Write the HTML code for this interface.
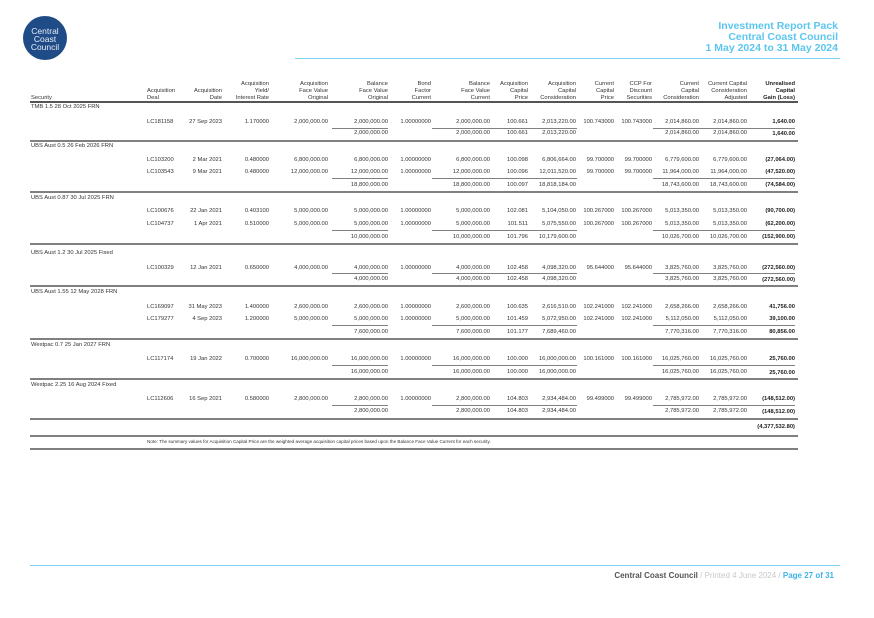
<!DOCTYPE html>
<html><head><meta charset="utf-8"><style>
*{margin:0;padding:0}
body{width:874px;height:618px;position:relative;background:#fff;font-family:"Liberation Sans",Arial,sans-serif;color:#333;overflow:hidden}
.logo{position:absolute;left:23px;top:16px;width:44px;height:44px;border-radius:50%;background:#1f4b86;color:#e8eef6;font-size:8.5px;line-height:8px;text-align:center;padding-top:11px;box-sizing:border-box;font-weight:300}
.title{position:absolute;right:36px;top:21px;text-align:right;color:#5cc6ef;font-weight:bold;font-size:10.5px;line-height:11px}
.hl{position:absolute;background:#7fd3f2;height:1px}
.ln{position:absolute;left:30px;width:768px;height:1.5px;background:#808080}
.ul{position:absolute;height:1px;background:#808080}
.r{position:absolute;left:0;width:874px;height:8px;font-size:5.8px;line-height:8px;white-space:nowrap}
.r span{position:absolute;top:0;text-align:right;width:70px}
.r .s{left:31px;text-align:left;width:200px}
.r .a{left:147px;text-align:left}
.c2{left:152px}.c3{left:199px}.c4{left:258px}.c5{left:318px}.c6{left:361px}
.c7{left:420px}.c8{left:458px}.c9{left:506px}.c10{left:544px}.c11{left:582px}
.c12{left:629px}.c13{left:677px}.c14{left:725px;font-weight:bold;color:#222}
.h{position:absolute;left:0;top:75px;width:874px;height:30px;font-size:5.8px;line-height:7px}
.h span{position:absolute;bottom:3px;text-align:right;width:70px}
.h .c14{font-weight:bold}
.foot{position:absolute;right:40px;top:571px;font-size:8px;font-weight:bold;color:#555}
</style></head><body>
<div class="logo">Central<br>Coast<br>Council</div>
<div class="title">Investment Report Pack<br>Central Coast Council<br>1 May 2024 to 31 May 2024</div>
<div class="hl" style="left:295px;top:58px;width:545px"></div>

<div class="h">
<span style="left:31px;text-align:left">Security</span>
<span style="left:147px;text-align:left">Acquisition<br>Deal</span>
<span class="c2">Acquisition<br>Date</span>
<span class="c3">Acquisition<br>Yield/<br>Interest Rate</span>
<span class="c4">Acquisition<br>Face Value<br>Original</span>
<span class="c5">Balance<br>Face Value<br>Original</span>
<span class="c6">Bond<br>Factor<br>Current</span>
<span class="c7">Balance<br>Face Value<br>Current</span>
<span class="c8">Acquisition<br>Capital<br>Price</span>
<span class="c9">Acquisition<br>Capital<br>Consideration</span>
<span class="c10">Current<br>Capital<br>Price</span>
<span class="c11">CCP For<br>Discount<br>Securities</span>
<span class="c12">Current<br>Capital<br>Consideration</span>
<span class="c13">Current Capital<br>Consideration<br>Adjusted</span>
<span class="c14">Unrealised<br>Capital<br>Gain (Loss)</span>
</div>
<div class="ln" style="top:101px;height:2px;background:#555"></div>

<!-- TMB -->
<div class="r" style="top:103px"><span class="s">TMB 1.5 28 Oct 2025 FRN</span></div>
<div class="r" style="top:118px"><span class="a">LC181158</span><span class="c2">27 Sep 2023</span><span class="c3">1.170000</span><span class="c4">2,000,000.00</span><span class="c5">2,000,000.00</span><span class="c6">1.00000000</span><span class="c7">2,000,000.00</span><span class="c8">100.661</span><span class="c9">2,013,220.00</span><span class="c10">100.743000</span><span class="c11">100.743000</span><span class="c12">2,014,860.00</span><span class="c13">2,014,860.00</span><span class="c14">1,640.00</span></div>
<div class="ul" style="left:332px;width:56px;top:128px"></div><div class="ul" style="left:432px;width:145px;top:128px"></div><div class="ul" style="left:653px;width:142px;top:128px"></div>
<div class="r" style="top:129px"><span class="c5">2,000,000.00</span><span class="c7">2,000,000.00</span><span class="c8">100.661</span><span class="c9">2,013,220.00</span><span class="c12">2,014,860.00</span><span class="c13">2,014,860.00</span><span class="c14" style="top:1px">1,640.00</span></div>
<div class="ln" style="top:140px"></div>

<!-- UBS 0.5 -->
<div class="r" style="top:142px"><span class="s">UBS Aust 0.5 26 Feb 2026 FRN</span></div>
<div class="r" style="top:156px"><span class="a">LC103200</span><span class="c2">2 Mar 2021</span><span class="c3">0.480000</span><span class="c4">6,800,000.00</span><span class="c5">6,800,000.00</span><span class="c6">1.00000000</span><span class="c7">6,800,000.00</span><span class="c8">100.098</span><span class="c9">6,806,664.00</span><span class="c10">99.700000</span><span class="c11">99.700000</span><span class="c12">6,779,600.00</span><span class="c13">6,779,600.00</span><span class="c14">(27,064.00)</span></div>
<div class="r" style="top:168px"><span class="a">LC103543</span><span class="c2">9 Mar 2021</span><span class="c3">0.480000</span><span class="c4">12,000,000.00</span><span class="c5">12,000,000.00</span><span class="c6">1.00000000</span><span class="c7">12,000,000.00</span><span class="c8">100.096</span><span class="c9">12,011,520.00</span><span class="c10">99.700000</span><span class="c11">99.700000</span><span class="c12">11,964,000.00</span><span class="c13">11,964,000.00</span><span class="c14">(47,520.00)</span></div>
<div class="ul" style="left:332px;width:56px;top:178px"></div><div class="ul" style="left:432px;width:145px;top:178px"></div><div class="ul" style="left:653px;width:142px;top:178px"></div>
<div class="r" style="top:181px"><span class="c5">18,800,000.00</span><span class="c7">18,800,000.00</span><span class="c8">100.097</span><span class="c9">18,818,184.00</span><span class="c12">18,743,600.00</span><span class="c13">18,743,600.00</span><span class="c14">(74,584.00)</span></div>
<div class="ln" style="top:191px"></div>

<!-- UBS 0.87 -->
<div class="r" style="top:194px"><span class="s">UBS Aust 0.87 30 Jul 2025 FRN</span></div>
<div class="r" style="top:207px"><span class="a">LC100676</span><span class="c2">22 Jan 2021</span><span class="c3">0.403100</span><span class="c4">5,000,000.00</span><span class="c5">5,000,000.00</span><span class="c6">1.00000000</span><span class="c7">5,000,000.00</span><span class="c8">102.081</span><span class="c9">5,104,050.00</span><span class="c10">100.267000</span><span class="c11">100.267000</span><span class="c12">5,013,350.00</span><span class="c13">5,013,350.00</span><span class="c14">(90,700.00)</span></div>
<div class="r" style="top:220px"><span class="a">LC104737</span><span class="c2">1 Apr 2021</span><span class="c3">0.510000</span><span class="c4">5,000,000.00</span><span class="c5">5,000,000.00</span><span class="c6">1.00000000</span><span class="c7">5,000,000.00</span><span class="c8">101.511</span><span class="c9">5,075,550.00</span><span class="c10">100.267000</span><span class="c11">100.267000</span><span class="c12">5,013,350.00</span><span class="c13">5,013,350.00</span><span class="c14">(62,200.00)</span></div>
<div class="ul" style="left:332px;width:56px;top:230px"></div><div class="ul" style="left:432px;width:145px;top:230px"></div><div class="ul" style="left:653px;width:142px;top:230px"></div>
<div class="r" style="top:233px"><span class="c5">10,000,000.00</span><span class="c7">10,000,000.00</span><span class="c8">101.796</span><span class="c9">10,179,600.00</span><span class="c12">10,026,700.00</span><span class="c13">10,026,700.00</span><span class="c14">(152,900.00)</span></div>
<div class="ln" style="top:243px"></div>

<!-- UBS 1.2 -->
<div class="r" style="top:249px"><span class="s">UBS Aust 1.2 30 Jul 2025 Fixed</span></div>
<div class="r" style="top:264px"><span class="a">LC100329</span><span class="c2">12 Jan 2021</span><span class="c3">0.650000</span><span class="c4">4,000,000.00</span><span class="c5">4,000,000.00</span><span class="c6">1.00000000</span><span class="c7">4,000,000.00</span><span class="c8">102.458</span><span class="c9">4,098,320.00</span><span class="c10">95.644000</span><span class="c11">95.644000</span><span class="c12">3,825,760.00</span><span class="c13">3,825,760.00</span><span class="c14">(272,560.00)</span></div>
<div class="ul" style="left:332px;width:56px;top:273px"></div><div class="ul" style="left:432px;width:145px;top:273px"></div><div class="ul" style="left:653px;width:142px;top:273px"></div>
<div class="r" style="top:275px"><span class="c5">4,000,000.00</span><span class="c7">4,000,000.00</span><span class="c8">102.458</span><span class="c9">4,098,320.00</span><span class="c12">3,825,760.00</span><span class="c13">3,825,760.00</span><span class="c14" style="top:1px">(272,560.00)</span></div>
<div class="ln" style="top:285px"></div>

<!-- UBS 1.55 -->
<div class="r" style="top:288px"><span class="s">UBS Aust 1.55 12 May 2028 FRN</span></div>
<div class="r" style="top:303px"><span class="a">LC169097</span><span class="c2">31 May 2023</span><span class="c3">1.400000</span><span class="c4">2,600,000.00</span><span class="c5">2,600,000.00</span><span class="c6">1.00000000</span><span class="c7">2,600,000.00</span><span class="c8">100.635</span><span class="c9">2,616,510.00</span><span class="c10">102.241000</span><span class="c11">102.241000</span><span class="c12">2,658,266.00</span><span class="c13">2,658,266.00</span><span class="c14">41,756.00</span></div>
<div class="r" style="top:315px"><span class="a">LC179277</span><span class="c2">4 Sep 2023</span><span class="c3">1.200000</span><span class="c4">5,000,000.00</span><span class="c5">5,000,000.00</span><span class="c6">1.00000000</span><span class="c7">5,000,000.00</span><span class="c8">101.459</span><span class="c9">5,072,950.00</span><span class="c10">102.241000</span><span class="c11">102.241000</span><span class="c12">5,112,050.00</span><span class="c13">5,112,050.00</span><span class="c14">39,100.00</span></div>
<div class="ul" style="left:332px;width:56px;top:325px"></div><div class="ul" style="left:432px;width:145px;top:325px"></div><div class="ul" style="left:653px;width:142px;top:325px"></div>
<div class="r" style="top:328px"><span class="c5">7,600,000.00</span><span class="c7">7,600,000.00</span><span class="c8">101.177</span><span class="c9">7,689,460.00</span><span class="c12">7,770,316.00</span><span class="c13">7,770,316.00</span><span class="c14">80,856.00</span></div>
<div class="ln" style="top:338px"></div>

<!-- Westpac 0.7 -->
<div class="r" style="top:341px"><span class="s">Westpac 0.7 25 Jan 2027 FRN</span></div>
<div class="r" style="top:355px"><span class="a">LC117174</span><span class="c2">19 Jan 2022</span><span class="c3">0.700000</span><span class="c4">16,000,000.00</span><span class="c5">16,000,000.00</span><span class="c6">1.00000000</span><span class="c7">16,000,000.00</span><span class="c8">100.000</span><span class="c9">16,000,000.00</span><span class="c10">100.161000</span><span class="c11">100.161000</span><span class="c12">16,025,760.00</span><span class="c13">16,025,760.00</span><span class="c14">25,760.00</span></div>
<div class="ul" style="left:332px;width:56px;top:365px"></div><div class="ul" style="left:432px;width:145px;top:365px"></div><div class="ul" style="left:653px;width:142px;top:365px"></div>
<div class="r" style="top:368px"><span class="c5">16,000,000.00</span><span class="c7">16,000,000.00</span><span class="c8">100.000</span><span class="c9">16,000,000.00</span><span class="c12">16,025,760.00</span><span class="c13">16,025,760.00</span><span class="c14" style="top:1px">25,760.00</span></div>
<div class="ln" style="top:378px"></div>

<!-- Westpac 2.25 -->
<div class="r" style="top:381px"><span class="s">Westpac 2.25 16 Aug 2024 Fixed</span></div>
<div class="r" style="top:395px"><span class="a">LC112606</span><span class="c2">16 Sep 2021</span><span class="c3">0.580000</span><span class="c4">2,800,000.00</span><span class="c5">2,800,000.00</span><span class="c6">1.00000000</span><span class="c7">2,800,000.00</span><span class="c8">104.803</span><span class="c9">2,934,484.00</span><span class="c10">99.499000</span><span class="c11">99.499000</span><span class="c12">2,785,972.00</span><span class="c13">2,785,972.00</span><span class="c14">(148,512.00)</span></div>
<div class="ul" style="left:332px;width:56px;top:405px"></div><div class="ul" style="left:432px;width:145px;top:405px"></div><div class="ul" style="left:653px;width:142px;top:405px"></div>
<div class="r" style="top:407px"><span class="c5">2,800,000.00</span><span class="c7">2,800,000.00</span><span class="c8">104.803</span><span class="c9">2,934,484.00</span><span class="c12">2,785,972.00</span><span class="c13">2,785,972.00</span><span class="c14" style="top:1px">(148,512.00)</span></div>
<div class="ln" style="top:418px"></div>

<div class="r" style="top:423px"><span class="c14">(4,377,532.80)</span></div>
<div class="ln" style="top:435px"></div>
<div class="r" style="top:438px;font-size:4.6px"><span class="a" style="width:500px">Note: The summary values for Acquisition Capital Price are the weighted average acquisition capital prices based upon the Balance Face Value Current for each security.</span></div>
<div class="ln" style="top:448px"></div>

<div class="hl" style="left:30px;top:565px;width:810px"></div>
<div class="foot">Central Coast Council <span style="color:#c8c8c8;font-weight:normal">/ Printed 4 June 2024 /</span> <span style="color:#3cb4e8">Page 27 of 31</span></div>
</body></html>
